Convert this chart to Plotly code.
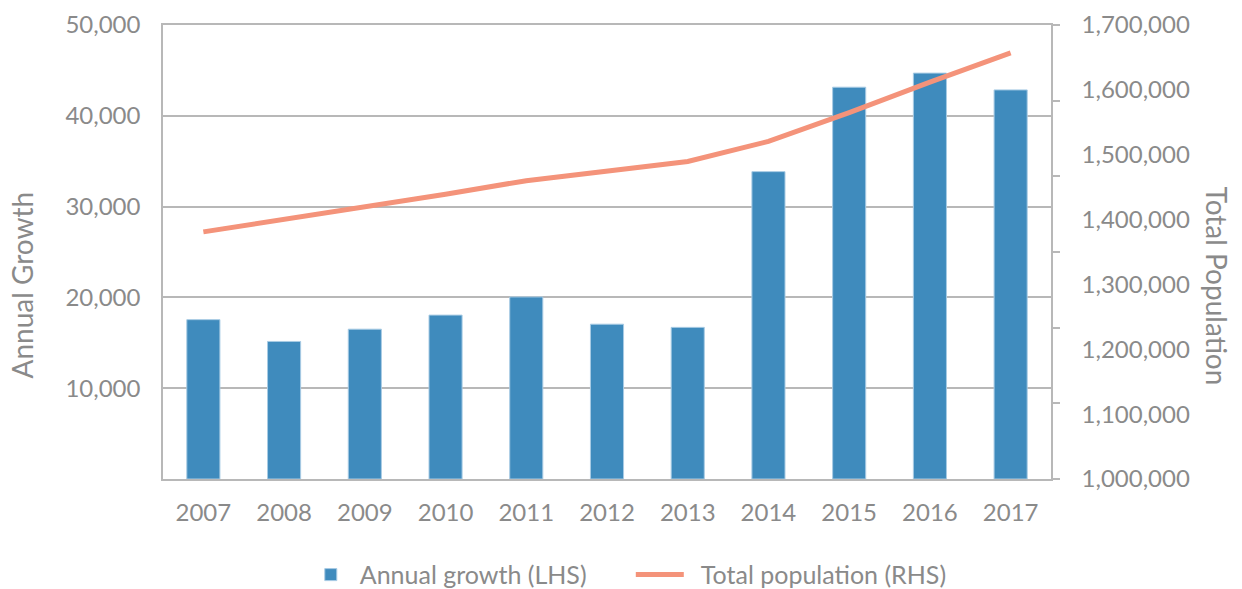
import plotly.graph_objects as go

years = ["2007", "2008", "2009", "2010", "2011", "2012", "2013", "2014", "2015", "2016", "2017"]
annual_growth = [17550, 15150, 16500, 18050, 20050, 17050, 16700, 33850, 43150, 44700, 42850]
total_population = [1381000, 1400000, 1419500, 1439000, 1460000, 1475000, 1489500, 1520500, 1565000, 1612000, 1657000]

left_ticks = [10000, 20000, 30000, 40000, 50000]
right_ticks = [1000000, 1100000, 1200000, 1300000, 1400000, 1500000, 1600000, 1700000]
right_tick_marks = [0, 1, 2, 3, 4, 5, 6]

FONT = "Lato"
GREY_TXT = "#8a8a8a"
GRID = "#b8b8b8"

fig = go.Figure()
fig.add_trace(go.Bar(
    x=years, y=annual_growth, name="Annual growth (LHS)",
    marker=dict(color="#3f8bbd", line=dict(color="#a8cbe4", width=1)),
    width=0.41, yaxis="y",
))
fig.add_trace(go.Scatter(
    x=years, y=total_population, name="\u00a0\u00a0Total population (RHS)",
    mode="lines", line=dict(color="#f4937a", width=5), yaxis="y2",
))
# empty trace so the tick-mark-only axis gets drawn
fig.add_trace(go.Scatter(x=[], y=[], yaxis="y3", showlegend=False, hoverinfo="skip"))

fig.update_layout(
    width=1242, height=589,
    margin=dict(l=163, r=191, t=25, b=110, autoexpand=False),
    paper_bgcolor="white", plot_bgcolor="white",
    font=dict(family=FONT, size=24, color=GREY_TXT),
    showlegend=True,
    legend=dict(orientation="h", x=0.1563, xanchor="left",
                yref="container", y=0.024, yanchor="middle",
                font=dict(size=25, color=GREY_TXT), itemwidth=48,
                entrywidth=266, traceorder="normal"),
    xaxis=dict(type="category", range=[-0.5, 10.5], showline=True, mirror=True,
               linecolor=GRID, linewidth=1.5, ticks="", showgrid=False,
               tickfont=dict(size=24, color=GREY_TXT), ticklabelstandoff=11),
    yaxis=dict(range=[0, 50000], tickvals=left_ticks, tickformat=",d",
               showgrid=True, gridcolor=GRID, gridwidth=1.5,
               showline=True, linecolor=GRID, linewidth=1.5, ticks="",
               zeroline=False, ticklabelstandoff=16,
               tickfont=dict(size=24, color=GREY_TXT)),
    yaxis2=dict(range=[1000000, 1700000], tickvals=right_ticks, tickformat=",d",
                overlaying="y", side="right", anchor="x", showgrid=False,
                showline=True, linecolor=GRID, linewidth=1.5, ticks="",
                zeroline=False, ticklabelstandoff=24,
                tickfont=dict(size=24, color=GREY_TXT)),
    yaxis3=dict(range=[0, 6], tickvals=right_tick_marks, overlaying="y", side="right",
                anchor="x", showgrid=False, showline=False, zeroline=False,
                ticks="outside", ticklen=8, tickwidth=1.5, tickcolor=GRID,
                showticklabels=False),
    annotations=[
        dict(text="Annual Growth", xref="paper", yref="paper", x=-0.159, y=0.428,
             xanchor="center", yanchor="middle", textangle=-90, showarrow=False,
             font=dict(size=28, color=GREY_TXT, family=FONT)),
        dict(text="Total Population", xref="paper", yref="paper", x=1.188, y=0.424,
             xanchor="center", yanchor="middle", textangle=90, showarrow=False,
             font=dict(size=28, color=GREY_TXT, family=FONT)),
    ],
)

fig.write_html("out.html")
